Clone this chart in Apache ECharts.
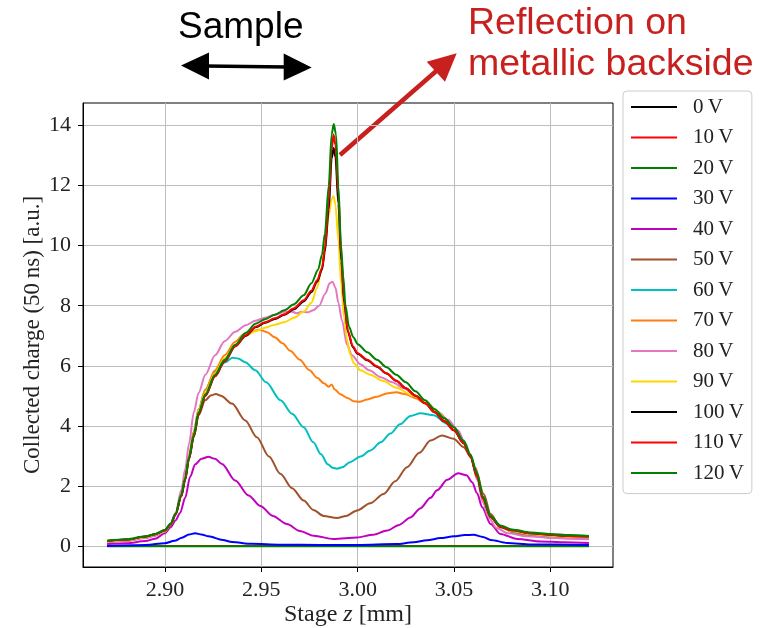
<!DOCTYPE html>
<html><head><meta charset="utf-8">
<script src="https://cdn.jsdelivr.net/npm/echarts@6/dist/echarts.min.js"></script>
<style>html,body{margin:0;padding:0;background:#fff}#c{width:773px;height:628px}</style>
</head><body><div id="c"></div>
<script>
// ---- data (stage z [mm], collected charge [a.u.]) ----
const xTicks = [2.90, 2.95, 3.00, 3.05, 3.10];
const yTicks = [0, 2, 4, 6, 8, 10, 12, 14];
const seriesNames = ['0\u2009V','10\u2009V','20\u2009V','30\u2009V','40\u2009V','50\u2009V','60\u2009V','70\u2009V','80\u2009V','90\u2009V','100\u2009V','110\u2009V','120\u2009V'];
const seriesColors = ['#000000','#ff0000','#008000','#0000ff','#bf00bf','#a0522d','#00bfbf','#ff7f0e','#e377c2','#ffd700','#000000','#ff0000','#008000'];

const q0V  = [[2.870,0.00],[2.920,0.00],[2.970,0.00],[3.020,0.00],[3.070,0.00],[3.120,0.00]];
const q10V = [[2.870,0.00],[2.920,0.00],[2.970,0.00],[3.020,0.00],[3.070,0.00],[3.120,0.00]];
const q20V = [[2.870,-0.01],[2.920,-0.01],[2.970,-0.01],[3.020,-0.01],[3.070,-0.01],[3.120,-0.01]];
const q30V = [[2.870,0.00],[2.890,0.03],[2.900,0.09],[2.905,0.17],[2.9088,0.27],[2.9125,0.38],[2.9157,0.42],[2.919,0.38],[2.9226,0.32],[2.930,0.20],[2.9348,0.13],[2.945,0.07],[2.960,0.04],[2.980,0.03],[3.000,0.03],[3.020,0.06],[3.029,0.12],[3.036,0.19],[3.043,0.26],[3.050,0.32],[3.0555,0.36],[3.0602,0.37],[3.065,0.30],[3.069,0.20],[3.0776,0.10],[3.090,0.05],[3.120,0.03]];
const q40V = [[2.870,0.06],[2.880,0.09],[2.890,0.16],[2.895,0.24],[2.900,0.42],[2.903,0.62],[2.9055,0.85],[2.9079,1.10],[2.9105,1.60],[2.9131,2.30],[2.9157,2.72],[2.919,2.90],[2.9226,2.97],[2.926,2.90],[2.9296,2.73],[2.9365,2.18],[2.9434,1.68],[2.9495,1.33],[2.956,1.00],[2.9633,0.73],[2.970,0.50],[2.9772,0.34],[2.9875,0.23],[2.9997,0.28],[3.008,0.37],[3.0153,0.51],[3.0215,0.70],[3.0274,0.95],[3.0325,1.25],[3.0378,1.60],[3.0412,1.85],[3.0465,2.20],[3.0521,2.42],[3.0565,2.35],[3.0594,2.12],[3.062,1.75],[3.0646,1.29],[3.069,0.73],[3.0741,0.40],[3.0828,0.23],[3.095,0.15],[3.107,0.12],[3.120,0.10]];
const q50V = [[2.870,0.12],[2.880,0.17],[2.890,0.27],[2.895,0.35],[2.900,0.48],[2.903,0.70],[2.9055,1.03],[2.9085,1.67],[2.9105,2.25],[2.9125,2.95],[2.915,3.65],[2.9175,4.35],[2.9209,4.85],[2.924,5.02],[2.9265,5.06],[2.929,5.00],[2.9348,4.74],[2.9417,4.18],[2.9477,3.62],[2.954,2.98],[2.9599,2.40],[2.966,1.92],[2.972,1.51],[2.977,1.20],[2.9823,1.00],[2.9893,0.93],[2.994,1.00],[2.9997,1.18],[3.0065,1.42],[3.0135,1.73],[3.0195,2.15],[3.0256,2.62],[3.032,3.10],[3.0378,3.51],[3.0438,3.68],[3.0498,3.57],[3.055,3.29],[3.0585,3.00],[3.061,2.60],[3.0654,1.73],[3.069,1.06],[3.0741,0.62],[3.0828,0.40],[3.100,0.28],[3.120,0.23]];
const q60V = [[2.870,0.14],[2.880,0.19],[2.890,0.29],[2.895,0.37],[2.900,0.50],[2.903,0.72],[2.9055,1.05],[2.9085,1.70],[2.9105,2.30],[2.9125,3.00],[2.915,3.80],[2.9175,4.55],[2.921,5.20],[2.926,5.80],[2.9313,6.12],[2.935,6.27],[2.938,6.24],[2.9417,6.12],[2.9469,5.85],[2.9525,5.45],[2.960,4.85],[2.966,4.40],[2.972,3.95],[2.977,3.45],[2.981,3.05],[2.9845,2.72],[2.987,2.60],[2.9893,2.57],[2.992,2.62],[2.996,2.79],[3.0015,2.98],[3.0066,3.18],[3.012,3.45],[3.017,3.74],[3.022,4.05],[3.0274,4.33],[3.0326,4.42],[3.0395,4.35],[3.0464,4.07],[3.050,3.85],[3.055,3.42],[3.0585,2.98],[3.062,2.30],[3.065,1.58],[3.069,0.96],[3.074,0.63],[3.080,0.48],[3.090,0.38],[3.100,0.33],[3.110,0.30],[3.120,0.28]];
const q70V = [[2.870,0.15],[2.880,0.20],[2.890,0.30],[2.895,0.38],[2.900,0.50],[2.903,0.72],[2.9055,1.05],[2.9085,1.70],[2.9105,2.30],[2.9125,3.00],[2.915,3.80],[2.9175,4.55],[2.921,5.20],[2.926,5.85],[2.931,6.35],[2.9365,6.80],[2.941,7.05],[2.945,7.15],[2.949,7.20],[2.953,7.12],[2.957,6.95],[2.961,6.75],[2.965,6.50],[2.970,6.20],[2.975,5.85],[2.979,5.60],[2.9825,5.42],[2.985,5.30],[2.9865,5.38],[2.988,5.22],[2.991,5.05],[2.995,4.92],[2.998,4.82],[3.001,4.80],[3.005,4.88],[3.010,4.97],[3.015,5.08],[3.020,5.12],[3.025,5.05],[3.030,4.92],[3.035,4.75],[3.040,4.48],[3.045,4.18],[3.050,3.85],[3.055,3.42],[3.0585,2.98],[3.062,2.30],[3.065,1.58],[3.069,0.96],[3.074,0.64],[3.080,0.50],[3.090,0.40],[3.100,0.35],[3.110,0.31],[3.120,0.29]];
const q80V = [[2.870,0.12],[2.880,0.17],[2.890,0.26],[2.895,0.34],[2.900,0.47],[2.903,0.72],[2.9055,1.10],[2.9085,1.85],[2.9105,2.55],[2.9125,3.40],[2.915,4.45],[2.9175,5.10],[2.921,5.70],[2.926,6.35],[2.931,6.82],[2.9365,7.13],[2.942,7.35],[2.947,7.50],[2.952,7.60],[2.957,7.70],[2.962,7.80],[2.966,7.80],[2.9685,7.75],[2.971,7.80],[2.974,7.78],[2.977,7.85],[2.980,8.00],[2.9832,8.40],[2.9855,8.75],[2.987,8.80],[2.9885,8.60],[2.990,8.10],[2.9919,7.50],[2.9945,6.70],[2.997,6.35],[3.0014,6.05],[3.006,5.85],[3.012,5.62],[3.018,5.45],[3.024,5.25],[3.030,5.00],[3.036,4.75],[3.042,4.45],[3.047,4.20],[3.052,3.85],[3.056,3.40],[3.059,2.90],[3.062,2.20],[3.065,1.45],[3.068,0.95],[3.072,0.60],[3.078,0.42],[3.088,0.32],[3.100,0.27],[3.110,0.24],[3.120,0.22]];
const q90V = [[2.870,0.15],[2.880,0.20],[2.890,0.30],[2.895,0.38],[2.900,0.50],[2.903,0.72],[2.9055,1.05],[2.9085,1.68],[2.9105,2.25],[2.9125,2.95],[2.915,3.70],[2.9175,4.50],[2.921,5.10],[2.926,5.75],[2.931,6.25],[2.9365,6.70],[2.942,7.00],[2.947,7.15],[2.952,7.27],[2.957,7.37],[2.962,7.45],[2.967,7.60],[2.972,7.80],[2.976,8.10],[2.979,8.60],[2.9815,9.30],[2.9835,10.30],[2.985,11.00],[2.9865,11.55],[2.9875,11.65],[2.9885,11.35],[2.990,10.20],[2.9915,8.70],[2.993,7.60],[2.9945,6.86],[2.996,6.40],[2.998,6.08],[3.0015,5.85],[3.0065,5.70],[3.013,5.50],[3.020,5.27],[3.029,5.00],[3.036,4.76],[3.042,4.45],[3.046,4.15],[3.050,3.85],[3.055,3.42],[3.0585,2.98],[3.062,2.30],[3.065,1.58],[3.069,0.96],[3.074,0.64],[3.080,0.50],[3.090,0.40],[3.100,0.35],[3.110,0.31],[3.120,0.29]];
const q100V = [[2.870,0.16],[2.880,0.21],[2.890,0.31],[2.895,0.39],[2.900,0.52],[2.903,0.73],[2.9055,1.05],[2.9085,1.65],[2.9105,2.20],[2.9125,2.90],[2.915,3.65],[2.9175,4.40],[2.921,5.00],[2.926,5.65],[2.931,6.15],[2.9365,6.65],[2.942,7.00],[2.947,7.28],[2.952,7.43],[2.957,7.56],[2.962,7.70],[2.967,7.88],[2.972,8.14],[2.976,8.45],[2.979,8.80],[2.9815,9.20],[2.983,9.80],[2.985,11.20],[2.9865,12.90],[2.9875,13.25],[2.9885,12.95],[2.990,11.40],[2.9915,9.50],[2.993,8.10],[2.995,7.12],[2.9975,6.62],[3.000,6.40],[3.005,6.18],[3.010,5.97],[3.015,5.74],[3.020,5.50],[3.025,5.25],[3.030,5.00],[3.035,4.75],[3.040,4.45],[3.045,4.15],[3.050,3.85],[3.055,3.42],[3.0585,2.98],[3.062,2.30],[3.065,1.58],[3.069,0.96],[3.074,0.64],[3.080,0.52],[3.090,0.42],[3.100,0.37],[3.110,0.33],[3.120,0.31]];
const q110V = [[2.870,0.16],[2.880,0.21],[2.890,0.31],[2.895,0.39],[2.900,0.52],[2.903,0.73],[2.9055,1.05],[2.9085,1.65],[2.9105,2.20],[2.9125,2.90],[2.915,3.65],[2.9175,4.40],[2.921,5.00],[2.926,5.65],[2.931,6.15],[2.9365,6.65],[2.942,7.02],[2.947,7.30],[2.952,7.45],[2.957,7.58],[2.962,7.72],[2.967,7.92],[2.972,8.18],[2.976,8.50],[2.979,8.85],[2.9815,9.25],[2.983,9.90],[2.985,11.50],[2.9865,13.20],[2.9875,13.70],[2.9885,13.35],[2.990,11.70],[2.9915,9.70],[2.993,8.20],[2.995,7.15],[2.9975,6.65],[3.000,6.42],[3.005,6.20],[3.010,5.98],[3.015,5.75],[3.020,5.50],[3.025,5.25],[3.030,5.00],[3.035,4.75],[3.040,4.45],[3.045,4.15],[3.050,3.85],[3.055,3.42],[3.0585,2.98],[3.062,2.30],[3.065,1.58],[3.069,0.96],[3.074,0.64],[3.080,0.52],[3.090,0.42],[3.100,0.37],[3.110,0.33],[3.120,0.31]];
const q120V = [[2.870,0.17],[2.880,0.22],[2.890,0.32],[2.895,0.40],[2.900,0.53],[2.903,0.75],[2.9055,1.07],[2.9085,1.70],[2.9105,2.25],[2.9125,2.95],[2.915,3.70],[2.9175,4.45],[2.921,5.05],[2.926,5.70],[2.931,6.20],[2.9365,6.70],[2.942,7.10],[2.947,7.40],[2.952,7.55],[2.957,7.70],[2.962,7.85],[2.967,8.05],[2.972,8.35],[2.976,8.75],[2.9795,9.20],[2.9815,9.70],[2.983,10.40],[2.985,12.00],[2.9865,13.70],[2.9876,14.05],[2.9888,13.70],[2.990,12.00],[2.9914,10.00],[2.9925,9.00],[2.9937,8.00],[2.9955,7.30],[2.9978,6.95],[3.000,6.72],[3.005,6.45],[3.010,6.20],[3.015,5.95],[3.020,5.70],[3.025,5.45],[3.030,5.15],[3.035,4.85],[3.040,4.55],[3.045,4.25],[3.050,3.95],[3.055,3.50],[3.0585,3.05],[3.062,2.40],[3.065,1.65],[3.069,1.00],[3.074,0.68],[3.080,0.55],[3.090,0.45],[3.100,0.40],[3.110,0.36],[3.120,0.33]];

const allData = [q0V,q10V,q20V,q30V,q40V,q50V,q60V,q70V,q80V,q90V,q100V,q110V,q120V];

// ---- chart ----
const serif = '"Liberation Serif", "Times New Roman", serif';
const sans = '"Liberation Sans", Arial, sans-serif';
const chart = echarts.init(document.getElementById('c'), null, {renderer: 'canvas'});

const series = allData.map((d, i) => ({
  name: seriesNames[i],
  type: 'line',
  data: d,
  symbol: 'none',
  smooth: 0.3,
  smoothMonotone: 'x',
  lineStyle: {color: seriesColors[i], width: 2},
  itemStyle: {color: seriesColors[i]},
  z: 2 + i
}));

chart.setOption({
  animation: false,
  backgroundColor: '#ffffff',
  grid: {left: 83, top: 103, width: 530, height: 464, show: true, borderColor: '#000', borderWidth: 1, backgroundColor: 'transparent', containLabel: false, outerBoundsMode: 'none'},
  xAxis: {
    type: 'value', min: 2.8575, max: 3.1325,
    axisLine: {show: true, onZero: false, lineStyle: {color: '#000', width: 1}},
    axisTick: {show: true, customValues: xTicks, length: 5, lineStyle: {color: '#000', width: 1}},
    axisLabel: {customValues: xTicks, formatter: v => v.toFixed(2), fontFamily: serif, fontSize: 22, color: '#222', margin: 12},
    splitLine: {show: true, lineStyle: {color: '#bdbdbd', width: 1}},
    name: '{a|Stage }{i|z}{a| [mm]}',
    nameLocation: 'middle', nameGap: 36, nameMoveOverlap: false,
    nameTextStyle: {rich: {a: {fontFamily: serif, fontSize: 24, color: '#222'}, i: {fontFamily: serif, fontStyle: 'italic', fontSize: 24, color: '#222'}}}
  },
  yAxis: {
    type: 'value', min: -0.7025, max: 14.7525,
    axisLine: {show: true, onZero: false, lineStyle: {color: '#000', width: 1}},
    axisTick: {show: true, customValues: yTicks, length: 5, lineStyle: {color: '#000', width: 1}},
    axisLabel: {customValues: yTicks, formatter: v => String(v), fontFamily: serif, fontSize: 22, color: '#222', margin: 12},
    splitLine: {show: true, lineStyle: {color: '#bdbdbd', width: 1}},
    name: 'Collected charge (50\u2009ns) [a.u.]',
    nameLocation: 'middle', nameGap: 39, nameRotate: 90, nameMoveOverlap: false,
    nameTextStyle: {fontFamily: serif, fontSize: 23, color: '#222'}
  },
  legend: {
    orient: 'vertical', left: 623, top: 91,
    padding: [5, 8, 9.6, 8],
    icon: 'rect',
    itemWidth: 46, itemHeight: 2, itemGap: 8.5,
    backgroundColor: 'rgba(255,255,255,0.8)', borderColor: '#cccccc', borderWidth: 1, borderRadius: 4,
    textStyle: {fontFamily: serif, fontSize: 21, color: '#222', lineHeight: 22, padding: [0, 0, 0, 11]},
    data: seriesNames.map(n => ({name: n}))
  },
  graphic: [
    {type: 'text', x: 178, y: 27.5, style: {text: 'Sample', font: '37px ' + sans, fill: '#000', verticalAlign: 'middle'}},
    {type: 'line', shape: {x1: 205, y1: 65.9, x2: 287, y2: 67.1}, style: {stroke: '#000', lineWidth: 3.5}},
    {type: 'polygon', shape: {points: [[181, 65.5], [209, 52.4], [209, 79.4]]}, style: {fill: '#000'}},
    {type: 'polygon', shape: {points: [[311.7, 67.5], [283.7, 53.6], [283.7, 80.6]]}, style: {fill: '#000'}},
    {type: 'text', x: 468, y: 24, style: {text: 'Reflection on', font: '37.5px ' + sans, fill: '#c8201e', verticalAlign: 'middle'}},
    {type: 'text', x: 468, y: 64.5, style: {text: 'metallic backside', font: '37.5px ' + sans, fill: '#c8201e', verticalAlign: 'middle'}},
    {type: 'line', shape: {x1: 340, y1: 155, x2: 438, y2: 69.5}, style: {stroke: '#c8201e', lineWidth: 4.5}},
    {type: 'polygon', shape: {points: [[456.7, 53.3], [426.7, 61.7], [445, 81.7]]}, style: {fill: '#c8201e'}}
  ],
  series: series
});
</script></body></html>
